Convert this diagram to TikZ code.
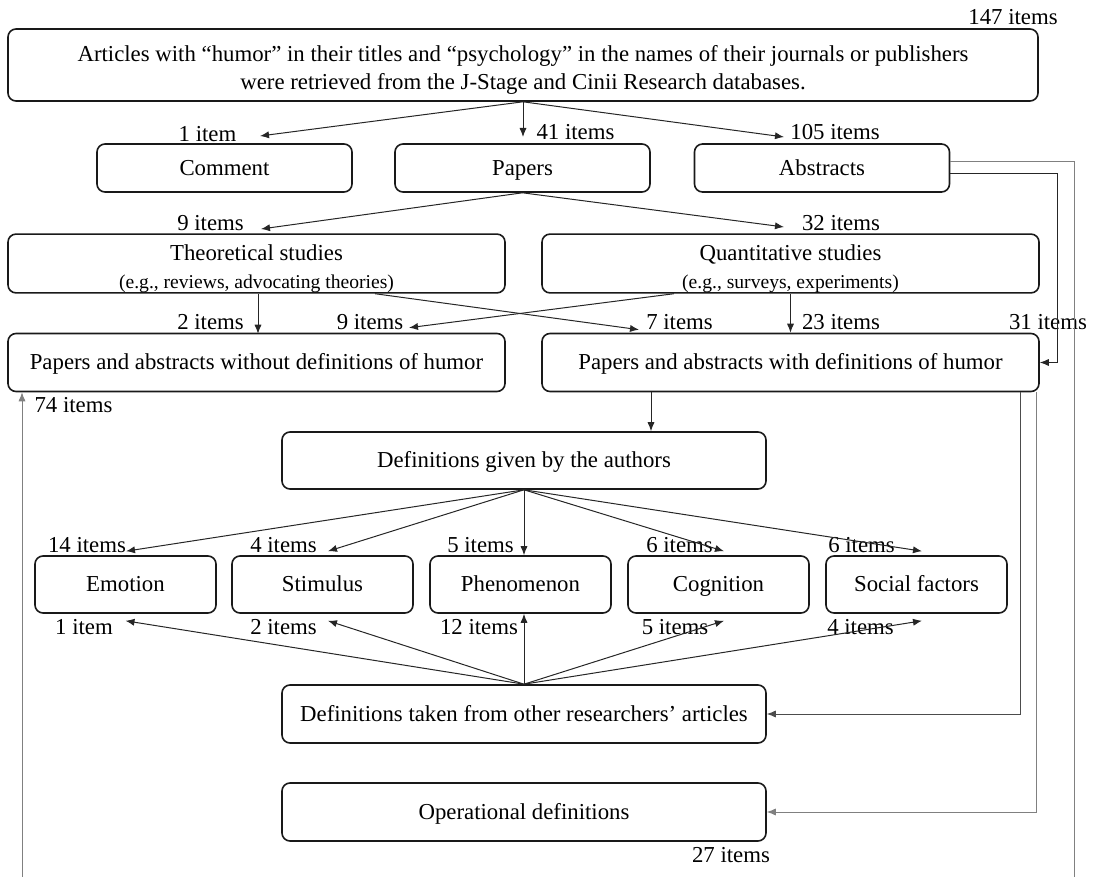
\documentclass[tikz,border=0pt]{standalone}
\usepackage{fontspec}
\setmainfont{Liberation Serif}
\usetikzlibrary{arrows.meta, positioning, calc}
\newcommand{\egnote}[1]{{\fontsize{9.8}{11}\selectfont #1}}
\tikzset{
    box/.style={draw=black!90, line width=0.8pt, rounded corners=4pt, inner sep=0pt, align=center, font=\fontsize{11.4}{13.8}\selectfont},
    one/.style={box, text height=9.6pt, text depth=2.5pt},
    row/.style={one, minimum width=127.5pt, minimum height=24pt},
    wide/.style={box, minimum width=248.5pt, minimum height=29pt},
    cat/.style={one, minimum width=90.5pt, minimum height=28.5pt},
    mid/.style={one, minimum width=242pt, minimum height=29pt},
    cnt/.style={font=\fontsize{11.4}{13}\selectfont, inner sep=0pt},
    arr/.style={-{Latex[length=4.5pt,width=3.6pt]}, line width=0.5pt, black!85},
    link/.style={line width=0.5pt, black!85},
    gry/.style={black!50}
}

\begin{document}
\begin{tikzpicture}[x=0.5pt, y=-0.5pt]
    \useasboundingbox (0,0) rectangle (1094,877);

    % Cajas
    \node[box, minimum width=515pt, minimum height=36pt] (art) at (523,65) {\rule{0pt}{13pt}Articles with “humor” in their titles and “psychology” in the names of their journals or publishers\\were retrieved from the J-Stage and Cinii Research databases.};
    \node[row] (com) at (224.5,168) {Comment};
    \node[row] (pap) at (522.5,168) {Papers};
    \node[row] (abs) at (822,168) {Abstracts};
    \node[wide, minimum height=28.5pt] (theo) at (256.5,263.5) {\rule{0pt}{13pt}Theoretical studies\\[0.5pt]\egnote{(e.g., reviews, advocating theories)}};
    \node[wide, minimum height=28.5pt] (quant) at (790.5,263.5) {\rule{0pt}{13pt}Quantitative studies\\[0.5pt]\egnote{(e.g., surveys, experiments)}};
    \node[wide, one] (without) at (256.5,362.5) {Papers and abstracts without definitions of humor};
    \node[wide, one] (with) at (790.5,362.5) {Papers and abstracts with definitions of humor};
    \node[mid, minimum height=28.5pt] (auth) at (524,460.5) {Definitions given by the authors};
    \node[cat] (emo) at (125.5,584.5) {Emotion};
    \node[cat] (sti) at (322.5,584.5) {Stimulus};
    \node[cat] (phe) at (520.5,584.5) {Phenomenon};
    \node[cat] (cog) at (718.5,584.5) {Cognition};
    \node[cat] (soc) at (916.5,584.5) {Social factors};
    \node[mid] (other) at (524,714) {Definitions taken from other researchers’ articles};
    \node[mid] (oper) at (524,812) {Operational definitions};

    % Cantidades
    \foreach \n/\x/\y/\t in {k147/1013/17/147 items, k1/207.5/134/1 item, k41/575.5/132/41 items,
        k105/835/132/105 items, k9a/210.5/223/9 items, k32/841/223/32 items,
        k2a/210.5/322/2 items, k9b/370/322/9 items, k7/679.5/322/7 items,
        k23/841/322/23 items, k31/1048/322/31 items, k74/73.5/405/74 items,
        k14/87/545/14 items, k4a/283.5/545/4 items, k5a/480.5/545/5 items,
        k6a/679.5/545/6 items, k6b/861.5/545/6 items,
        k1b/84/627/1 item, k2b/283.5/627/2 items, k12/479/627/12 items,
        k5b/675/627/5 items, k4b/860.5/627/4 items, k27/731/855/27 items}
        \node[cnt] (\n) at (\x,\y) {\t};

    % Extremos libres
    \coordinate (tcom) at (260,136);
    \coordinate (tpap) at (523,137);
    \coordinate (tabs) at (784,137);
    \coordinate (ttheo) at (261,229);
    \coordinate (tquant) at (784,227);
    \coordinate (botL) at (22,877);
    \coordinate (botR) at (1074,877);

    % Flechas
    \draw[arr] (art.south) -- (tcom);
    \draw[arr] (art.south) -- (tpap);
    \draw[arr] (art.south) -- (tabs);
    \draw[arr] (pap.south) -- (ttheo);
    \draw[arr] (pap.south) -- (tquant);
    \draw[arr] ($(theo.south)+(1.5,0)$) -- ++(0,40);
    \draw[arr] ($(theo.south)+(118.5,0)$) -- ($(with.north)+(-151.5,-3)$);
    \draw[arr] ($(quant.south)+(-116.5,0)$) -- ($(without.north)+(152.5,-5)$);
    \draw[arr] (quant.south) -- (quant.south |- with.north);
    \draw[arr] ($(abs.east)+(0,6)$) -| ($(with.east)+(18,0)$) -- (with.east);
    \draw[link, gry] ($(abs.east)+(0,-6)$) -| (botR);
    \draw[arr, gry] (botL) -- (botL |- without.south);
    \draw[arr] ($(with.south)+(-139.5,0)$) coordinate (w1) -- (w1 |- auth.north);

    \draw[arr] (auth.south) -- ($(emo.north)+(0.5,-4)$);
    \draw[arr] (auth.south) -- ($(sti.north)+(5.5,-4)$);
    \draw[arr] (auth.south) -- (auth.south |- phe.north);
    \draw[arr] (auth.south) -- ($(cog.north)+(5.5,-4)$);
    \draw[arr] (auth.south) -- ($(soc.north)+(5.5,-4)$);

    \draw[arr] (other.north) -- ($(emo.south)+(0,7)$);
    \draw[arr] (other.north) -- ($(sti.south)+(5.5,7)$);
    \draw[arr] (other.north) -- (other.north |- phe.south);
    \draw[arr] (other.north) -- ($(cog.south)+(5.5,7)$);
    \draw[arr] (other.north) -- ($(soc.south)+(5.5,7)$);

    \draw[arr, black!70] ($(with.south)+(229.5,0)$) |- (other.east);
    \draw[arr, gry] ($(with.south)+(245.5,0)$) |- (oper.east);
\end{tikzpicture}
\end{document}
